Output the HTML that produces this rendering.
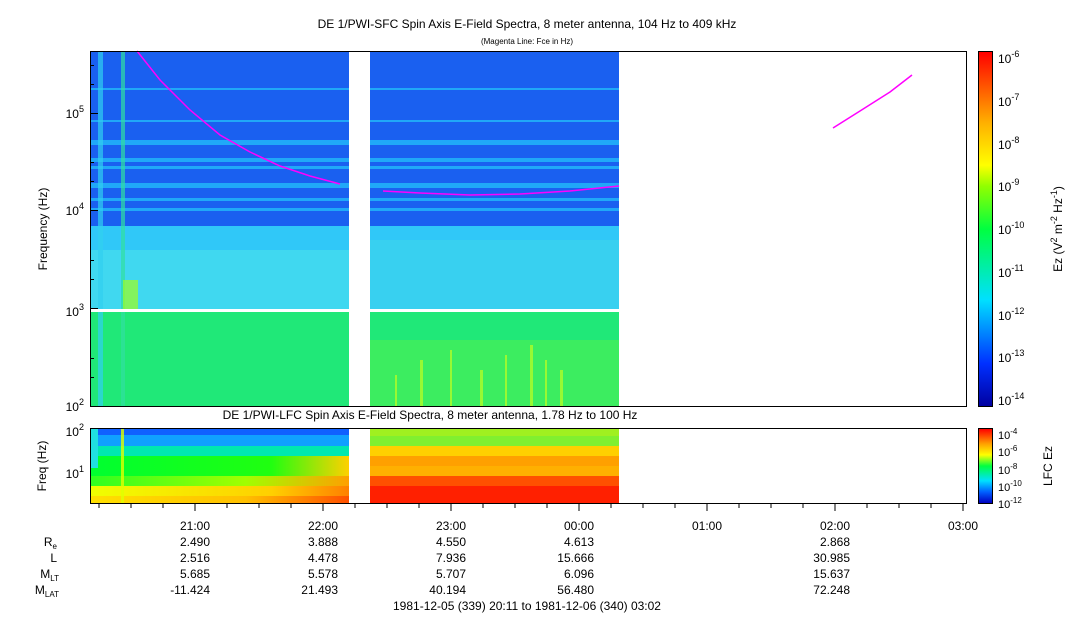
<!DOCTYPE html>
<html><head><style>
body{margin:0;background:#fff;font-family:"Liberation Sans",sans-serif;}
svg text{font-family:"Liberation Sans",sans-serif;fill:#000}
</style></head><body>
<svg width="1083" height="620" xmlns="http://www.w3.org/2000/svg">
<defs>
<linearGradient id="cb" x1="0" y1="1" x2="0" y2="0">
<stop offset="0" stop-color="#0000a0"/><stop offset="0.12" stop-color="#0030ff"/><stop offset="0.3" stop-color="#00e0ff"/><stop offset="0.5" stop-color="#00ff40"/><stop offset="0.62" stop-color="#90ff00"/><stop offset="0.68" stop-color="#ffff00"/><stop offset="0.8" stop-color="#ffb000"/><stop offset="1" stop-color="#ff0000"/>
</linearGradient>
<linearGradient id="cb2" x1="0" y1="1" x2="0" y2="0">
<stop offset="0" stop-color="#0000c0"/><stop offset="0.15" stop-color="#0060ff"/><stop offset="0.3" stop-color="#00e0ff"/><stop offset="0.5" stop-color="#00ff40"/><stop offset="0.65" stop-color="#ffff00"/><stop offset="0.8" stop-color="#ffa000"/><stop offset="1" stop-color="#ff0000"/>
</linearGradient>
<linearGradient id="lr" x1="0" y1="0" x2="1" y2="0"><stop offset="0" stop-color="#ffe000"/><stop offset="0.6" stop-color="#ffc000"/><stop offset="1" stop-color="#ff5000"/></linearGradient>
<linearGradient id="lr2" x1="0" y1="0" x2="1" y2="0"><stop offset="0" stop-color="#f0ff00"/><stop offset="0.7" stop-color="#ffd000"/><stop offset="1" stop-color="#ff8000"/></linearGradient>
<linearGradient id="lr3" x1="0" y1="0" x2="1" y2="0"><stop offset="0" stop-color="#30ff20"/><stop offset="0.6" stop-color="#a0ff00"/><stop offset="1" stop-color="#ffa000"/></linearGradient>
<linearGradient id="lr4" x1="0" y1="0" x2="1" y2="0"><stop offset="0" stop-color="#00ff30"/><stop offset="0.7" stop-color="#20ff10"/><stop offset="1" stop-color="#ffd000"/></linearGradient>
</defs>
<text x="527" y="28" font-size="12" text-anchor="middle">DE 1/PWI-SFC  Spin Axis E-Field Spectra, 8 meter antenna, 104 Hz to 409 kHz</text>
<text x="527" y="44" font-size="8" text-anchor="middle">(Magenta Line: Fce in Hz)</text>
<g>
<rect x="90" y="51" width="259" height="180" fill="#1a60f0"/>
<rect x="370" y="51" width="249" height="180" fill="#1a60f0"/>
<g fill="#20a8f8">
<rect x="90" y="140" width="529" height="5"/><rect x="90" y="158" width="529" height="4"/><rect x="90" y="166" width="529" height="3"/><rect x="90" y="183" width="529" height="5"/><rect x="90" y="198" width="529" height="3"/><rect x="90" y="208" width="529" height="3"/><rect x="90" y="88" width="529" height="2"/><rect x="90" y="120" width="529" height="2"/>
</g>
<rect x="90" y="226" width="529" height="83" fill="#30c8f8"/>
<rect x="90" y="250" width="259" height="59" fill="#40d8f0"/>
<rect x="370" y="240" width="249" height="69" fill="#38d0f0"/>
<rect x="90" y="312" width="529" height="94" fill="#20e878"/>
<rect x="370" y="340" width="249" height="66" fill="#50f050" opacity="0.6"/>
<g fill="#c0ff20" opacity="0.7">
<rect x="420" y="360" width="3" height="46"/><rect x="450" y="350" width="2" height="56"/><rect x="480" y="370" width="3" height="36"/><rect x="505" y="355" width="2" height="51"/><rect x="530" y="345" width="3" height="61"/><rect x="545" y="360" width="2" height="46"/><rect x="395" y="375" width="2" height="31"/><rect x="560" y="370" width="3" height="36"/>
</g>
<rect x="98" y="51" width="5" height="355" fill="#30d0f0" opacity="0.7"/>
<rect x="121" y="51" width="4" height="355" fill="#30e0a0" opacity="0.7"/>
<rect x="123" y="280" width="15" height="30" fill="#a0ff20" opacity="0.7"/>
<rect x="349" y="51" width="21" height="355" fill="#fff"/>
<rect x="90" y="309" width="529" height="3" fill="#fff"/>
</g>
<polyline points="137,51 160,80 190,110 220,135 250,152 280,166 310,176 340,184" fill="none" stroke="#ff00ff" stroke-width="1.5"/>
<polyline points="383,191 420,193 470,195 520,194 570,191 619,186" fill="none" stroke="#ff00ff" stroke-width="1.5"/>
<polyline points="833,128 860,111 890,92 912,75" fill="none" stroke="#ff00ff" stroke-width="1.5"/>
<rect x="90.5" y="51.5" width="876" height="355" fill="none" stroke="#000"/>
<g stroke="#000">
<line x1="90" y1="113.5" x2="98" y2="113.5"/><line x1="90" y1="210.5" x2="98" y2="210.5"/><line x1="90" y1="308.5" x2="98" y2="308.5"/>
<line x1="90" y1="84.5" x2="94" y2="84.5"/><line x1="90" y1="65.5" x2="94" y2="65.5"/><line x1="90" y1="181.5" x2="94" y2="181.5"/><line x1="90" y1="162.5" x2="94" y2="162.5"/><line x1="90" y1="279.5" x2="94" y2="279.5"/><line x1="90" y1="260.5" x2="94" y2="260.5"/><line x1="90" y1="377.5" x2="94" y2="377.5"/><line x1="90" y1="358.5" x2="94" y2="358.5"/>
<line x1="90" y1="435.5" x2="97" y2="435.5"/><line x1="90" y1="476.5" x2="97" y2="476.5"/>
</g>
<text x="84" y="118" font-size="12" text-anchor="end">10<tspan font-size="9" dy="-6">5</tspan></text>
<text x="84" y="215" font-size="12" text-anchor="end">10<tspan font-size="9" dy="-6">4</tspan></text>
<text x="84" y="316" font-size="12" text-anchor="end">10<tspan font-size="9" dy="-6">3</tspan></text>
<text x="84" y="411" font-size="12" text-anchor="end">10<tspan font-size="9" dy="-6">2</tspan></text>
<text transform="translate(47,229) rotate(-90)" font-size="12" text-anchor="middle">Frequency (Hz)</text>
<rect x="979" y="52" width="13" height="354" fill="url(#cb)"/>
<rect x="978.5" y="51.5" width="14" height="355" fill="none" stroke="#000"/>
<g font-size="12">
<text x="998" y="63">10<tspan font-size="9" dy="-6">-6</tspan></text>
<text x="998" y="106">10<tspan font-size="9" dy="-6">-7</tspan></text>
<text x="998" y="149">10<tspan font-size="9" dy="-6">-8</tspan></text>
<text x="998" y="191">10<tspan font-size="9" dy="-6">-9</tspan></text>
<text x="998" y="234">10<tspan font-size="9" dy="-6">-10</tspan></text>
<text x="998" y="277">10<tspan font-size="9" dy="-6">-11</tspan></text>
<text x="998" y="320">10<tspan font-size="9" dy="-6">-12</tspan></text>
<text x="998" y="362">10<tspan font-size="9" dy="-6">-13</tspan></text>
<text x="998" y="405">10<tspan font-size="9" dy="-6">-14</tspan></text>
</g>
<text transform="translate(1062,229) rotate(-90)" font-size="12" text-anchor="middle">Ez (V<tspan font-size="9" dy="-5">2</tspan><tspan dy="5"> m</tspan><tspan font-size="9" dy="-5">-2</tspan><tspan dy="5"> Hz</tspan><tspan font-size="9" dy="-5">-1</tspan><tspan dy="5">)</tspan></text>
<text x="430" y="419" font-size="12" text-anchor="middle">DE 1/PWI-LFC  Spin Axis E-Field Spectra, 8 meter antenna, 1.78 Hz to 100 Hz</text>
<g>
<rect x="90" y="428" width="259" height="7" fill="#1060ff"/>
<rect x="90" y="435" width="259" height="11" fill="#10a0ff"/>
<rect x="90" y="446" width="259" height="10" fill="#00e8b0"/>
<rect x="90" y="456" width="259" height="10" fill="url(#lr4)"/>
<rect x="90" y="466" width="259" height="10" fill="url(#lr4)"/>
<rect x="90" y="476" width="259" height="10" fill="url(#lr3)"/>
<rect x="90" y="486" width="259" height="10" fill="url(#lr2)"/>
<rect x="90" y="496" width="259" height="8" fill="url(#lr)"/>
<rect x="90" y="428" width="8" height="40" fill="#20e0e0"/>
<rect x="370" y="428" width="249" height="8" fill="#a0f020"/>
<rect x="370" y="436" width="249" height="10" fill="#80f030"/>
<rect x="370" y="446" width="249" height="10" fill="#ffd000"/>
<rect x="370" y="456" width="249" height="10" fill="#ffa000"/>
<rect x="370" y="466" width="249" height="10" fill="#ffb000"/>
<rect x="370" y="476" width="249" height="10" fill="#ff5000"/>
<rect x="370" y="486" width="249" height="18" fill="#ff2000"/>
<rect x="121" y="428" width="3" height="76" fill="#e0ff00" opacity="0.8"/>
</g>
<rect x="90.5" y="428.5" width="876" height="75" fill="none" stroke="#000"/>
<g stroke="#000">
<line x1="195" y1="504" x2="195" y2="511"/><line x1="323" y1="504" x2="323" y2="511"/><line x1="451" y1="504" x2="451" y2="511"/><line x1="579" y1="504" x2="579" y2="511"/><line x1="707" y1="504" x2="707" y2="511"/><line x1="835" y1="504" x2="835" y2="511"/><line x1="963" y1="504" x2="963" y2="511"/>
<line x1="99" y1="504" x2="99" y2="508"/><line x1="131" y1="504" x2="131" y2="508"/><line x1="163" y1="504" x2="163" y2="508"/><line x1="227" y1="504" x2="227" y2="508"/><line x1="259" y1="504" x2="259" y2="508"/><line x1="291" y1="504" x2="291" y2="508"/><line x1="355" y1="504" x2="355" y2="508"/><line x1="387" y1="504" x2="387" y2="508"/><line x1="419" y1="504" x2="419" y2="508"/><line x1="483" y1="504" x2="483" y2="508"/><line x1="515" y1="504" x2="515" y2="508"/><line x1="547" y1="504" x2="547" y2="508"/><line x1="611" y1="504" x2="611" y2="508"/><line x1="643" y1="504" x2="643" y2="508"/><line x1="675" y1="504" x2="675" y2="508"/><line x1="739" y1="504" x2="739" y2="508"/><line x1="771" y1="504" x2="771" y2="508"/><line x1="803" y1="504" x2="803" y2="508"/><line x1="867" y1="504" x2="867" y2="508"/><line x1="899" y1="504" x2="899" y2="508"/><line x1="931" y1="504" x2="931" y2="508"/>
</g>
<text x="84" y="436" font-size="12" text-anchor="end">10<tspan font-size="9" dy="-6">2</tspan></text>
<text x="84" y="478" font-size="12" text-anchor="end">10<tspan font-size="9" dy="-6">1</tspan></text>
<text transform="translate(46,466) rotate(-90)" font-size="12" text-anchor="middle">Freq (Hz)</text>
<rect x="979" y="429" width="13" height="74" fill="url(#cb2)"/>
<rect x="978.5" y="428.5" width="14" height="75" fill="none" stroke="#000"/>
<g font-size="11">
<text x="998" y="439">10<tspan font-size="8" dy="-5">-4</tspan></text>
<text x="998" y="456">10<tspan font-size="8" dy="-5">-6</tspan></text>
<text x="998" y="474">10<tspan font-size="8" dy="-5">-8</tspan></text>
<text x="998" y="491">10<tspan font-size="8" dy="-5">-10</tspan></text>
<text x="998" y="508">10<tspan font-size="8" dy="-5">-12</tspan></text>
</g>
<text transform="translate(1052,466) rotate(-90)" font-size="12" text-anchor="middle">LFC Ez</text>
<g font-size="12" text-anchor="end">
<text x="210" y="530">21:00</text><text x="338" y="530">22:00</text><text x="466" y="530">23:00</text><text x="594" y="530">00:00</text><text x="722" y="530">01:00</text><text x="850" y="530">02:00</text><text x="978" y="530">03:00</text>
<text x="210" y="546">2.490</text><text x="338" y="546">3.888</text><text x="466" y="546">4.550</text><text x="594" y="546">4.613</text><text x="850" y="546">2.868</text>
<text x="210" y="562">2.516</text><text x="338" y="562">4.478</text><text x="466" y="562">7.936</text><text x="594" y="562">15.666</text><text x="850" y="562">30.985</text>
<text x="210" y="578">5.685</text><text x="338" y="578">5.578</text><text x="466" y="578">5.707</text><text x="594" y="578">6.096</text><text x="850" y="578">15.637</text>
<text x="210" y="594">-11.424</text><text x="338" y="594">21.493</text><text x="466" y="594">40.194</text><text x="594" y="594">56.480</text><text x="850" y="594">72.248</text>
<text x="57" y="546">R<tspan font-size="8" dy="3">e</tspan></text>
<text x="57" y="562">L</text>
<text x="59" y="578">M<tspan font-size="8" dy="3">LT</tspan></text>
<text x="59" y="594">M<tspan font-size="8" dy="3">LAT</tspan></text>
</g>
<text x="527" y="610" font-size="12" text-anchor="middle">1981-12-05 (339) 20:11 to 1981-12-06 (340) 03:02</text>
</svg>
</body></html>
